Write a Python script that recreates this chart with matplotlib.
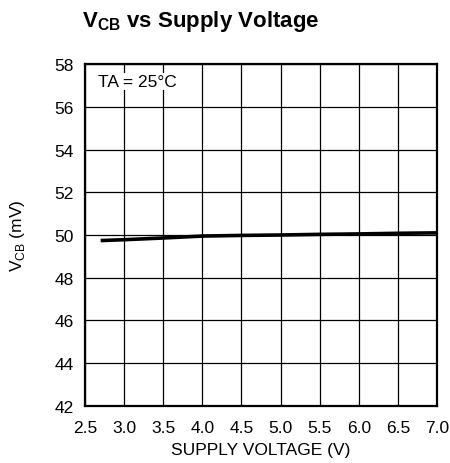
import matplotlib.pyplot as plt

plt.rcParams["font.family"] = ["Liberation Sans", "DejaVu Sans"]
plt.rcParams["mathtext.fontset"] = "custom"
plt.rcParams["mathtext.rm"] = "Liberation Sans"
plt.rcParams["mathtext.bf"] = "Liberation Sans:bold"

supply_v = [2.7, 3.0, 3.5, 4.0, 4.5, 5.0, 5.5, 6.0, 6.5, 7.0]
vcb_mv = [49.74, 49.78, 49.86, 49.95, 49.98, 50.0, 50.03, 50.05, 50.08, 50.1]

xticks = [2.5, 3.0, 3.5, 4.0, 4.5, 5.0, 5.5, 6.0, 6.5, 7.0]
yticks = [42, 44, 46, 48, 50, 52, 54, 56, 58]

fig = plt.figure(figsize=(4.5, 4.64), dpi=100)
ax = fig.add_axes([85 / 450, 1 - 407 / 464, 352 / 450, 342 / 464])

ax.plot(supply_v, vcb_mv, color="black", lw=2.6, solid_capstyle="butt")

ax.set_xlim(2.5, 7.0)
ax.set_ylim(42, 58)
ax.set_xticks(xticks)
ax.set_xticklabels(["%.1f" % t for t in xticks])
ax.set_yticks(yticks)
ax.tick_params(length=0, labelsize=12.5)
ax.tick_params(axis="x", pad=10)
ax.tick_params(axis="y", pad=8)
ax.grid(True, color="black", lw=0.9)
for s in ax.spines.values():
    s.set_linewidth(1.6)

ax.text(2.66, 57.18, "TA = 25°C", fontsize=12.5, va="center",
        bbox=dict(facecolor="white", edgecolor="none", pad=1))

ax.set_xlabel("SUPPLY VOLTAGE (V)", fontsize=12.5, labelpad=5)
ax.set_ylabel("V$_{\\mathrm{CB}}$ (mV)", fontsize=12.5, labelpad=20)
fig.text(82 / 450, 1 - 21 / 464, "$\\mathbf{V_{CB}}$ vs Supply Voltage",
         fontsize=16, fontweight="bold", va="center")

fig.savefig("out.png", dpi=100)
